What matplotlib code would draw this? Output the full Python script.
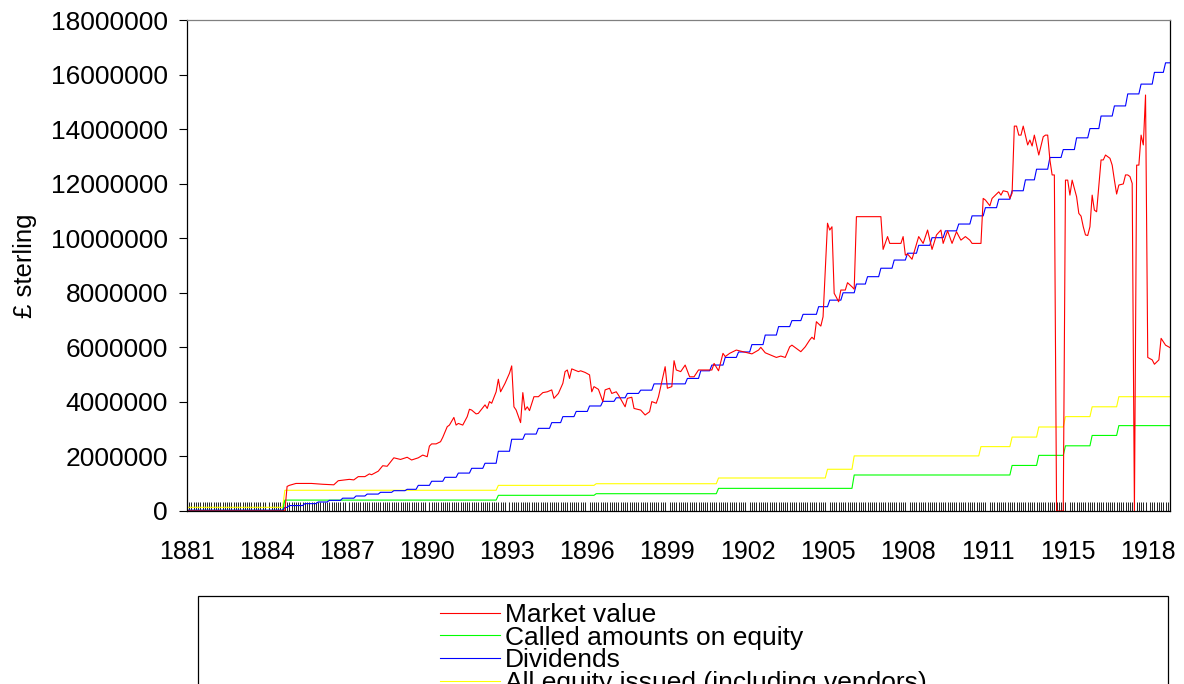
import numpy as np
import matplotlib
matplotlib.use("Agg")
import matplotlib.pyplot as plt
from matplotlib.patches import Rectangle
from matplotlib.ticker import FuncFormatter

plt.rcParams['font.family'] = ['Liberation Sans', 'DejaVu Sans']

# monthly categories, 443 months on the axis
n_months = 443
tick_months = [0, 36, 72, 108, 144, 180, 216, 252, 288, 324, 360, 396, 432]
tick_labels = ['1881', '1884', '1887', '1890', '1893', '1896', '1899',
               '1902', '1905', '1908', '1911', '1915', '1918']

# market value (millions), read at month index
mv_month = [0, 44, 45, 46, 49, 56, 61, 66, 68, 73, 75, 77, 80, 82, 83, 86, 88, 90,
            93, 96, 99, 101, 104, 106, 108, 109, 110, 112, 114, 115, 117, 118, 120,
            121, 122, 124, 126, 127, 128, 130, 131, 134, 135, 136, 137, 139, 140,
            141, 143, 145, 146, 147, 148, 150, 151, 152, 153, 154, 156, 158, 160,
            162, 164, 165, 167, 169, 170, 171, 172, 173, 176, 177, 179, 181, 182,
            183, 185, 187, 188, 190, 191, 193, 194, 197, 198, 200, 201, 204, 206,
            208, 209, 211, 212, 214, 215, 216, 218, 219, 220, 222, 224, 226, 228,
            230, 233, 236, 237, 239, 241, 242, 244, 247, 250, 254, 257, 258, 260,
            265, 267, 269, 271, 272, 275, 276, 278, 280, 281, 282, 283, 285, 286,
            288, 289, 290, 291, 292, 293, 294, 296, 297, 299, 300, 301, 312, 313,
            315, 316, 321, 322, 323, 324, 326, 329, 331, 333, 335, 337, 339, 340,
            342, 344, 346, 347, 348, 350, 352, 353, 357, 358, 359, 361, 362, 365,
            366, 367, 369, 370, 371, 372, 373, 374, 375, 376, 378, 379, 380, 381,
            383, 385, 386, 387, 388, 389, 390, 391, 394, 395, 396, 397, 398, 400,
            401, 402, 403, 404, 405, 406, 407, 408, 409, 411, 412, 413, 415, 416,
            417, 418, 419, 421, 422, 423, 424, 425, 426, 427, 428, 429, 430, 431,
            432, 434, 435, 437, 438, 440, 442]
mv_value = [0, 0, 0.90, 0.94, 1.01, 1.01, 0.98, 0.96, 1.11, 1.16, 1.14, 1.26, 1.26,
            1.36, 1.33, 1.46, 1.66, 1.64, 1.95, 1.89, 1.97, 1.87, 1.95, 2.05, 1.99,
            2.38, 2.46, 2.46, 2.54, 2.70, 3.09, 3.15, 3.43, 3.15, 3.21, 3.15, 3.46,
            3.73, 3.70, 3.56, 3.58, 3.89, 3.76, 4.01, 3.95, 4.37, 4.83, 4.37, 4.68,
            5.05, 5.32, 3.82, 3.70, 3.24, 4.34, 3.70, 3.82, 3.68, 4.19, 4.19, 4.34,
            4.37, 4.44, 4.13, 4.31, 4.68, 5.11, 5.17, 4.86, 5.21, 5.11, 5.14, 5.08,
            4.99, 4.37, 4.56, 4.46, 4.01, 4.44, 4.50, 4.31, 4.37, 4.25, 3.82, 4.13,
            4.17, 3.76, 3.70, 3.52, 3.64, 4.01, 3.95, 4.19, 4.92, 5.29, 4.50, 4.56,
            5.51, 5.17, 5.11, 5.35, 4.92, 4.92, 5.17, 5.17, 5.17, 5.41, 5.14, 5.78,
            5.66, 5.78, 5.90, 5.84, 5.76, 5.90, 6.00, 5.80, 5.63, 5.68, 5.63, 6.02,
            6.08, 5.90, 5.84, 6.02, 6.27, 6.37, 6.29, 6.94, 6.78, 7.12, 10.55, 10.30,
            10.42, 7.98, 7.83, 7.67, 8.10, 8.10, 8.37, 8.22, 8.13, 10.79, 10.79, 9.59,
            10.06, 9.81, 9.81, 10.06, 9.38, 9.42, 9.23, 10.06, 9.81, 10.30, 9.59,
            10.12, 10.30, 9.81, 10.27, 9.81, 10.24, 10.08, 9.93, 10.06, 9.93, 9.81,
            9.81, 11.46, 11.40, 11.19, 11.46, 11.70, 11.58, 11.74, 11.70, 11.46,
            11.65, 14.11, 14.11, 13.78, 13.78, 14.11, 13.42, 13.60, 13.38, 13.78,
            13.05, 13.72, 13.78, 13.78, 12.87, 12.32, 12.32, 0, 0, 12.13, 12.13,
            11.58, 12.13, 11.52, 10.91, 10.81, 10.42, 10.12, 10.10, 10.42, 11.58,
            11.03, 10.97, 12.87, 12.87, 13.05, 12.93, 12.68, 12.13, 11.62, 11.95,
            11.99, 12.32, 12.32, 12.26, 12.01, 0, 12.68, 12.68, 13.78, 13.42, 15.25,
            5.63, 5.54, 5.38, 5.54, 6.33, 6.08, 5.99]

# called amounts on equity (millions): month of change, new level
called_start = [0, 44, 140, 184, 239, 300, 371, 383, 395, 407, 419]
called_level = [0.02, 0.40, 0.575, 0.634, 0.83, 1.32, 1.67, 2.04, 2.39, 2.77, 3.13]

# all equity issued incl. vendors (millions)
issued_start = [0, 44, 140, 184, 239, 288, 300, 357, 371, 383, 395, 407, 419]
issued_level = [0.135, 0.76, 0.94, 1.00, 1.21, 1.53, 2.02, 2.36, 2.71, 3.08, 3.46,
                3.82, 4.19]

# dividends (millions)
div_start = [0, 44, 46, 53, 59, 64, 70, 76, 81, 87, 93, 99, 104, 110, 116, 122, 128,
             134, 140, 146, 152, 158, 164, 169, 175, 181, 187, 193, 198, 204, 210,
             225, 231, 236, 242, 248, 254, 260, 266, 272, 277, 284, 289, 295, 301,
             306, 312, 318, 324, 329, 335, 341, 347, 353, 359, 365, 371, 377, 382,
             388, 394, 400, 406, 411, 417, 423, 429, 435, 440]
div_level = [0.03, 0.13, 0.20, 0.27, 0.33, 0.39, 0.47, 0.55, 0.62, 0.685, 0.745, 0.795,
             0.94, 1.09, 1.235, 1.39, 1.565, 1.75, 2.19, 2.63, 2.82, 3.03, 3.24, 3.46,
             3.65, 3.85, 4.02, 4.15, 4.31, 4.43, 4.66, 4.86, 5.14, 5.35, 5.63, 5.83,
             6.10, 6.45, 6.76, 6.98, 7.21, 7.49, 7.73, 8.00, 8.32, 8.59, 8.90, 9.20,
             9.45, 9.74, 10.02, 10.27, 10.52, 10.82, 11.12, 11.43, 11.74, 12.14,
             12.53, 12.96, 13.25, 13.68, 14.02, 14.48, 14.85, 15.29, 15.65, 16.08,
             16.43]


def monthly_steps(starts, levels, n):
    out = np.empty(n)
    ends = starts[1:] + [n]
    for s, e, v in zip(starts, ends, levels):
        out[s:e] = v
    return out


months = np.arange(n_months)
called = monthly_steps(called_start, called_level, n_months) * 1e6
issued = monthly_steps(issued_start, issued_level, n_months) * 1e6
divs = monthly_steps(div_start, div_level, n_months) * 1e6
mv = np.array(mv_value) * 1e6

fig = plt.figure(figsize=(11.84, 6.84), dpi=100)
ax = fig.add_axes([187 / 1184, 1 - 511 / 684, 983 / 1184, 491 / 684])

lw = 0.8
l_issued, = ax.plot(months, issued, color='#FFFF00', lw=lw)
l_called, = ax.plot(months, called, color='#00FF00', lw=lw)
l_div, = ax.plot(months, divs, color='#0000FF', lw=lw)
l_mv, = ax.plot(mv_month, mv, color='#FF0000', lw=lw)

ax.set_xlim(0, n_months - 1)
ax.set_ylim(0, 18e6)
ax.set_yticks(np.arange(0, 18e6 + 1, 2e6))
ax.yaxis.set_major_formatter(FuncFormatter(lambda v, p: '%d' % v))
ax.set_xticks(tick_months)
ax.set_xticklabels(tick_labels)
ax.set_xticks(months, minor=True)
ax.tick_params(axis='x', which='major', length=0, pad=21, labelsize=18)
ax.tick_params(axis='x', which='minor', direction='in', length=6.5, width=0.6,
               color='black')
ax.tick_params(axis='y', direction='out', length=5.8, width=0.8, pad=8,
               labelsize=19)
ax.set_ylabel('£ sterling', fontsize=18.5)
ax.yaxis.set_label_coords(-0.153, 0.5)

for side in ['left', 'right', 'bottom']:
    ax.spines[side].set_color('black')
    ax.spines[side].set_linewidth(0.9)
ax.spines['top'].set_color('#808080')
ax.spines['top'].set_linewidth(0.9)

# legend frame (runs off the bottom of the figure)
fig.add_artist(Rectangle((198 / 1184, -0.2), 970 / 1184, 1 - 596 / 684 + 0.2,
                         transform=fig.transFigure, fill=False,
                         edgecolor='black', linewidth=0.9))
fig.legend([l_mv, l_called, l_div, l_issued],
           ['Market value', 'Called amounts on equity', 'Dividends',
            'All equity issued (including vendors)'],
           loc='upper left', bbox_to_anchor=(440 / 1184, 1 - 603 / 684),
           frameon=False, fontsize=19, handlelength=2.27, handletextpad=0.19,
           labelspacing=-0.05, borderpad=0, borderaxespad=0)

fig.savefig('out.png', dpi=100)
